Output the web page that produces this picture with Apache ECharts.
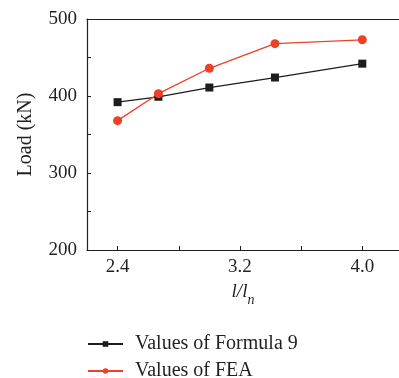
<!DOCTYPE html>
<html>
<head>
<meta charset="utf-8">
<script src="https://cdn.jsdelivr.net/npm/echarts@6/dist/echarts.min.js"></script>
<style>
  html, body { margin: 0; padding: 0; background: #fff; }
  #chart { width: 399px; height: 378px; }
</style>
</head>
<body>
<div id="chart"></div>
<script>
// l/ln ratios (l = 24, ln = 10, 9, 8, 7, 6)
const ratios = [2.4, 2.667, 3.0, 3.429, 4.0];
const formulaLoads = [392, 399, 411, 424, 442];
const feaLoads = [368, 403, 436, 468, 473];
const xTickLabels = [2.4, 3.2, 4.0];
const xTickMarks = [2.4, 2.8, 3.2, 3.6, 4.0];
const seriesNames = ['Values of Formula 9', 'Values of FEA'];

const FONT = '"Liberation Serif", "DejaVu Serif", serif';
const TEXT = '#231f20';
const AXIS = '#231f20';

const pairs = (xs, ys) => xs.map((x, i) => [x, ys[i]]);

// one legend block per series, stacked
const legendRow = (name, top) => ({
  left: 82,
  top: top,
  itemWidth: 35,
  itemHeight: 7,
  textStyle: { fontFamily: FONT, fontSize: 20, color: TEXT, padding: [0, 0, 0, 7] },
  data: [name]
});

const chart = echarts.init(document.getElementById('chart'), null, { renderer: 'canvas' });
chart.setOption({
  backgroundColor: '#fff',
  animation: false,
  grid: { left: 87, right: 0, top: 19, bottom: 128, containLabel: false },
  xAxis: [{
    type: 'value',
    min: 2.2,
    max: 4.24,
    name: '{i|l/l}{s|n}',
    nameLocation: 'middle',
    nameGap: 32,
    nameTextStyle: {
      rich: {
        i: { fontFamily: FONT, fontStyle: 'italic', fontSize: 19, color: TEXT },
        s: { fontFamily: FONT, fontStyle: 'italic', fontSize: 14, color: TEXT, verticalAlign: 'bottom', padding: [0, 0, -6, 0] }
      }
    },
    axisLine: { lineStyle: { color: AXIS, width: 1.2 } },
    axisTick: { inside: true, length: 4, lineStyle: { color: AXIS }, customValues: xTickMarks },
    axisLabel: {
      customValues: xTickLabels,
      margin: 8,
      fontFamily: FONT, fontSize: 19, color: TEXT,
      formatter: v => v.toFixed(1)
    },
    splitLine: { show: false }
  }, {
    type: 'value',
    position: 'top',
    min: 2.2,
    max: 4.24,
    axisLine: { show: true, onZero: false, lineStyle: { color: AXIS, width: 1.2 } },
    axisTick: { show: false },
    axisLabel: { show: false },
    splitLine: { show: false }
  }],
  yAxis: {
    type: 'value',
    min: 200,
    max: 500,
    interval: 100,
    name: 'Load (kN)',
    nameLocation: 'middle',
    nameGap: 51,
    nameTextStyle: { fontFamily: FONT, fontSize: 20, color: TEXT },
    axisLine: { show: true, lineStyle: { color: AXIS, width: 1.2 } },
    axisTick: { inside: true, length: 4, lineStyle: { color: AXIS } },
    minorTick: { show: true, splitNumber: 2, length: 4, lineStyle: { color: AXIS } },
    axisLabel: { margin: 10, fontFamily: FONT, fontSize: 19, color: TEXT },
    splitLine: { show: false }
  },
  legend: [legendRow(seriesNames[0], 329), legendRow(seriesNames[1], 356)],
  series: [{
    name: seriesNames[0],
    type: 'line',
    data: pairs(ratios, formulaLoads),
    symbol: 'rect',
    symbolSize: 8,
    color: '#1d1d1b',
    lineStyle: { width: 1.3, color: '#1d1d1b' },
    itemStyle: { color: '#1d1d1b' }
  }, {
    name: seriesNames[1],
    type: 'line',
    data: pairs(ratios, feaLoads),
    symbol: 'circle',
    symbolSize: 9,
    color: '#ee4027',
    lineStyle: { width: 1.3, color: '#ee4027' },
    itemStyle: { color: '#ee4027' }
  }]
});
</script>
</body>
</html>
